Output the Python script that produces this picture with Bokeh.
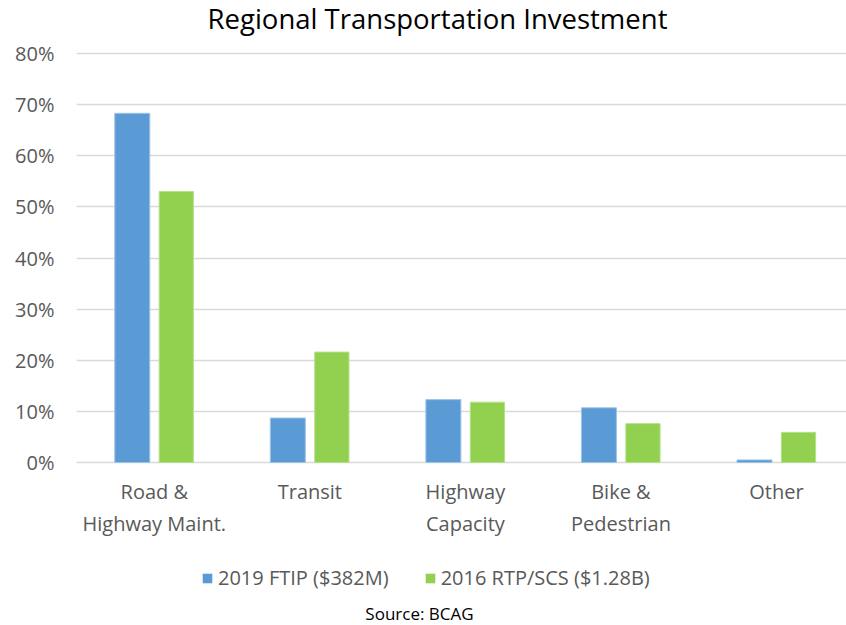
from bokeh.plotting import figure
from bokeh.layouts import column
from bokeh.models import (ColumnDataSource, Range1d, FixedTicker, NumeralTickFormatter,
                          Legend, LegendItem, Label)
from bokeh.transform import dodge
from bokeh.embed import file_html
from bokeh.resources import INLINE

title_text = "Regional Transportation Investment"
source_text = "Source: BCAG"
categories = ["Road &\nHighway Maint.", "Transit", "Highway\nCapacity", "Bike &\nPedestrian", "Other"]
ftip_2019 = [0.683, 0.087, 0.123, 0.107, 0.005]
rtp_2016 = [0.530, 0.216, 0.118, 0.076, 0.059]
series_labels = ["2019 FTIP ($382M)", "2016 RTP/SCS ($1.28B)"]
series_colors = ["#5B9BD5", "#92D050"]
y_ticks = [0, 0.1, 0.2, 0.3, 0.4, 0.5, 0.6, 0.7, 0.8]

pos = list(range(len(categories)))
src = ColumnDataSource(dict(x=pos, ftip=ftip_2019, rtp=rtp_2016))

FONT = "Open Sans"
GREY = "#595959"
W = 846
H0 = 38
H1 = 512
H2 = 75
LEFT = 76


def bare(height):
    f = figure(width=W, height=height, output_backend="svg", toolbar_location=None,
               x_range=Range1d(0, W - LEFT), y_range=Range1d(0, height),
               x_axis_location=None, y_axis_location=None,
               min_border=0, min_border_left=LEFT)
    f.outline_line_color = None
    f.grid.grid_line_color = None
    return f


# header with title
p0 = bare(H0)
p0.add_layout(Label(text=title_text, x=361, y=H0 - 18, x_units="screen", y_units="screen",
                    text_align="center", text_baseline="middle", text_font=FONT,
                    text_font_size="27.5px", text_color="black"))

# main chart
p = figure(width=W, height=H1, output_backend="svg", toolbar_location=None,
           x_range=Range1d(-0.5, 4.45), y_range=Range1d(-0.0039, 0.8039),
           min_border_left=LEFT, min_border_right=0, min_border_top=51 - H0,
           min_border_bottom=H0 + H1 - 464)
p.outline_line_color = None

r1 = p.vbar(x=dodge("x", -0.1415, range=p.x_range), top="ftip", width=0.225, bottom=0,
            source=src, fill_color=series_colors[0], line_color="#9DC3E6", line_width=1)
r2 = p.vbar(x=dodge("x", 0.1415, range=p.x_range), top="rtp", width=0.22, bottom=0,
            source=src, fill_color=series_colors[1], line_color="#B5E08A", line_width=1)

p.yaxis.ticker = FixedTicker(ticks=y_ticks)
p.yaxis.formatter = NumeralTickFormatter(format="0%")
p.yaxis.axis_line_color = None
p.yaxis.major_tick_line_color = None
p.yaxis.minor_tick_line_color = None
p.yaxis.major_tick_in = 0
p.yaxis.major_tick_out = 0
p.yaxis.major_label_standoff = 22
p.yaxis.major_label_text_font = FONT
p.yaxis.major_label_text_font_size = "20px"
p.yaxis.major_label_text_color = GREY

p.xaxis.ticker = FixedTicker(ticks=pos)
p.xaxis.major_label_overrides = {i: c for i, c in zip(pos, categories)}
p.xaxis.axis_line_color = None
p.xaxis.major_tick_line_color = None
p.xaxis.minor_tick_line_color = None
p.xaxis.major_tick_in = 0
p.xaxis.major_tick_out = 0
p.xaxis.major_label_standoff = 13
p.xaxis.major_label_text_font = FONT
p.xaxis.major_label_text_font_size = "20px"
p.xaxis.major_label_text_color = GREY

p.xgrid.grid_line_color = None
p.ygrid.ticker = FixedTicker(ticks=y_ticks)
p.ygrid.grid_line_color = "#d9d9d9"
p.ygrid.grid_line_width = 1.5

# footer: legend + source
p2 = bare(H2)
l1 = p2.vbar(x="x", top="ftip", width=0.2, source=src, fill_color=series_colors[0],
             line_color=None, visible=False)
l2 = p2.vbar(x="x", top="rtp", width=0.2, source=src, fill_color=series_colors[1],
             line_color=None, visible=False)
legend = Legend(items=[LegendItem(label=series_labels[0], renderers=[l1]),
                       LegendItem(label=series_labels[1], renderers=[l2])],
                orientation="horizontal", location=(125, 34), click_policy="none",
                label_text_font=FONT, label_text_font_size="20px", label_text_color=GREY,
                glyph_width=12, glyph_height=12, label_standoff=5, spacing=35,
                inactive_fill_alpha=0,
                border_line_color=None, background_fill_alpha=0, padding=0, margin=0)
p2.add_layout(legend, "center")
p2.add_layout(Label(text=source_text, x=343, y=12, x_units="screen", y_units="screen",
                    text_align="center", text_baseline="middle", text_font=FONT,
                    text_font_size="17px", text_color="black"))

layout = column(p0, p, p2, spacing=0)
open("out.html", "w").write(file_html(layout, INLINE))
